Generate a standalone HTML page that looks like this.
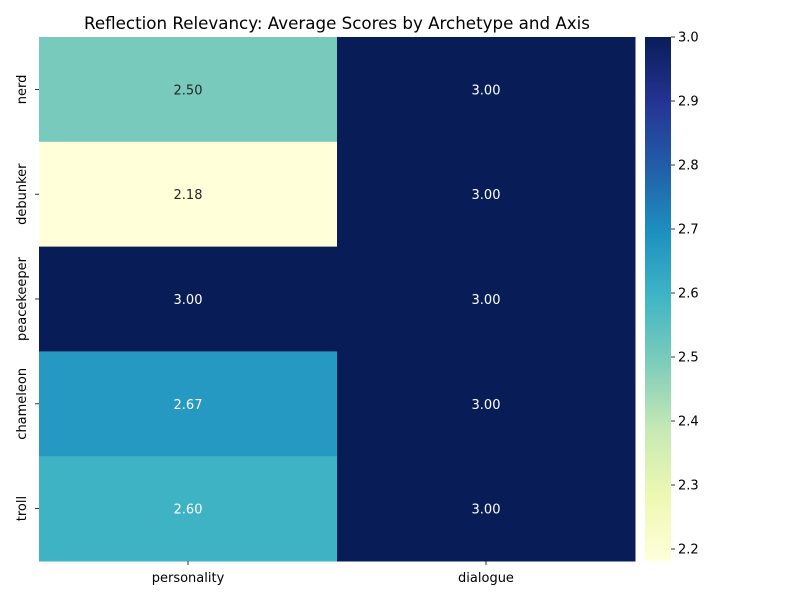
<!DOCTYPE html>
<html><head><meta charset="utf-8">
<style>
body{margin:0;background:#fff;font-family:"Liberation Sans","DejaVu Sans",sans-serif;}
svg text{font-family:"DejaVu Sans","Liberation Sans",sans-serif;}
</style></head>
<body>
<svg id="chart" width="800" height="600" xmlns="http://www.w3.org/2000/svg">
<defs>
<linearGradient id="cbg" x1="0" y1="1" x2="0" y2="0">
<stop offset="0" stop-color="#ffffd9"/><stop offset="0.125" stop-color="#edf8b1"/><stop offset="0.25" stop-color="#c7e9b4"/><stop offset="0.375" stop-color="#7fcdbb"/><stop offset="0.5" stop-color="#41b6c4"/><stop offset="0.625" stop-color="#1d91c0"/><stop offset="0.75" stop-color="#225ea8"/><stop offset="0.875" stop-color="#253494"/><stop offset="1" stop-color="#081d58"/>
</linearGradient>
</defs>
<text x="337" y="29" text-anchor="middle" font-size="16.7" fill="#000">Reflection Relevancy: Average Scores by Archetype and Axis</text>
<g id="cells"></g>
<rect x="645" y="37" width="26" height="524" fill="url(#cbg)"/>
<g id="cbticks"></g>
</svg>
<script>
const rows = ["nerd","debunker","peacekeeper","chameleon","troll"];
const cols = ["personality","dialogue"];
const personality = [2.50, 2.18, 3.00, 2.67, 2.60];
const dialogue = [3.00, 3.00, 3.00, 3.00, 3.00];
const cbTicks = [2.2, 2.3, 2.4, 2.5, 2.6, 2.7, 2.8, 2.9, 3.0];
const vmin = 2.18125, vmax = 3.0;

const stops = ["#ffffd9","#edf8b1","#c7e9b4","#7fcdbb","#41b6c4","#1d91c0","#225ea8","#253494","#081d58"].map(h=>[parseInt(h.slice(1,3),16),parseInt(h.slice(3,5),16),parseInt(h.slice(5,7),16)]);
function cmap(v){let t=Math.max(0,Math.min(1,(v-vmin)/(vmax-vmin)))*8;let i=Math.min(7,Math.floor(t));let f=t-i;
 const c=stops[i].map((a,k)=>Math.round(a+(stops[i+1][k]-a)*f));return c;}
const X0=39,X1=635,Y0=37,Y1=561;
const cw=(X1-X0)/cols.length, rh=(Y1-Y0)/rows.length;
const xs=i=>X0+i*cw, ys=j=>Y0+j*rh;
const cbY=v=>Y1-(v-vmin)/(vmax-vmin)*(Y1-Y0);
const NS="http://www.w3.org/2000/svg";
const g=document.getElementById('cells'), svg=document.getElementById('chart');
function mk(tag,at,parent){const e=document.createElementNS(NS,tag);for(const k in at)e.setAttribute(k,at[k]);parent.appendChild(e);return e;}
const series=[personality,dialogue];
series.forEach((vals,ci)=>{vals.forEach((v,ri)=>{
 const c=cmap(v);
 const r=mk('rect',{x:xs(ci),y:ys(ri),width:cw+0.5,height:rh+0.5,fill:`rgb(${c})`},g);
 
 
 const lum=(0.299*c[0]+0.587*c[1]+0.114*c[2]);
 const t=mk('text',{x:xs(ci)+cw/2,y:ys(ri)+rh/2+5,'text-anchor':'middle','font-size':13,fill:lum>160?'#262626':'#ffffff'},g);
 t.textContent=v.toFixed(2);
 
 
});});
rows.forEach((r,ri)=>{
 const y=ys(ri)+rh/2;
 const tk=mk('line',{x1:35,x2:39,y1:y,y2:y,stroke:'#000','stroke-width':0.8},svg);
 
 
 const t=mk('text',{x:0,y:0,transform:`translate(26,${y}) rotate(-90)`,'text-anchor':'middle','font-size':13,fill:'#000'},svg);
 t.textContent=r;
 
 
});
cols.forEach((c,ci)=>{
 const x=xs(ci)+cw/2;
 const tk=mk('line',{x1:x,x2:x,y1:561,y2:565,stroke:'#000','stroke-width':0.8},svg);
 
 
 const t=mk('text',{x:x,y:582,'text-anchor':'middle','font-size':13,fill:'#000'},svg);
 t.textContent=c;
 
 
});
const cb=document.getElementById('cbticks');
cbTicks.forEach(v=>{
 const y=cbY(v);
 const tk=mk('line',{x1:671,x2:675,y1:y,y2:y,stroke:'#000','stroke-width':0.8},cb);
 
 
 const t=mk('text',{x:678,y:y+4.5,'font-size':13,fill:'#000'},cb);
 t.textContent=v.toFixed(1);
 
 
});
</script>
</body></html>
